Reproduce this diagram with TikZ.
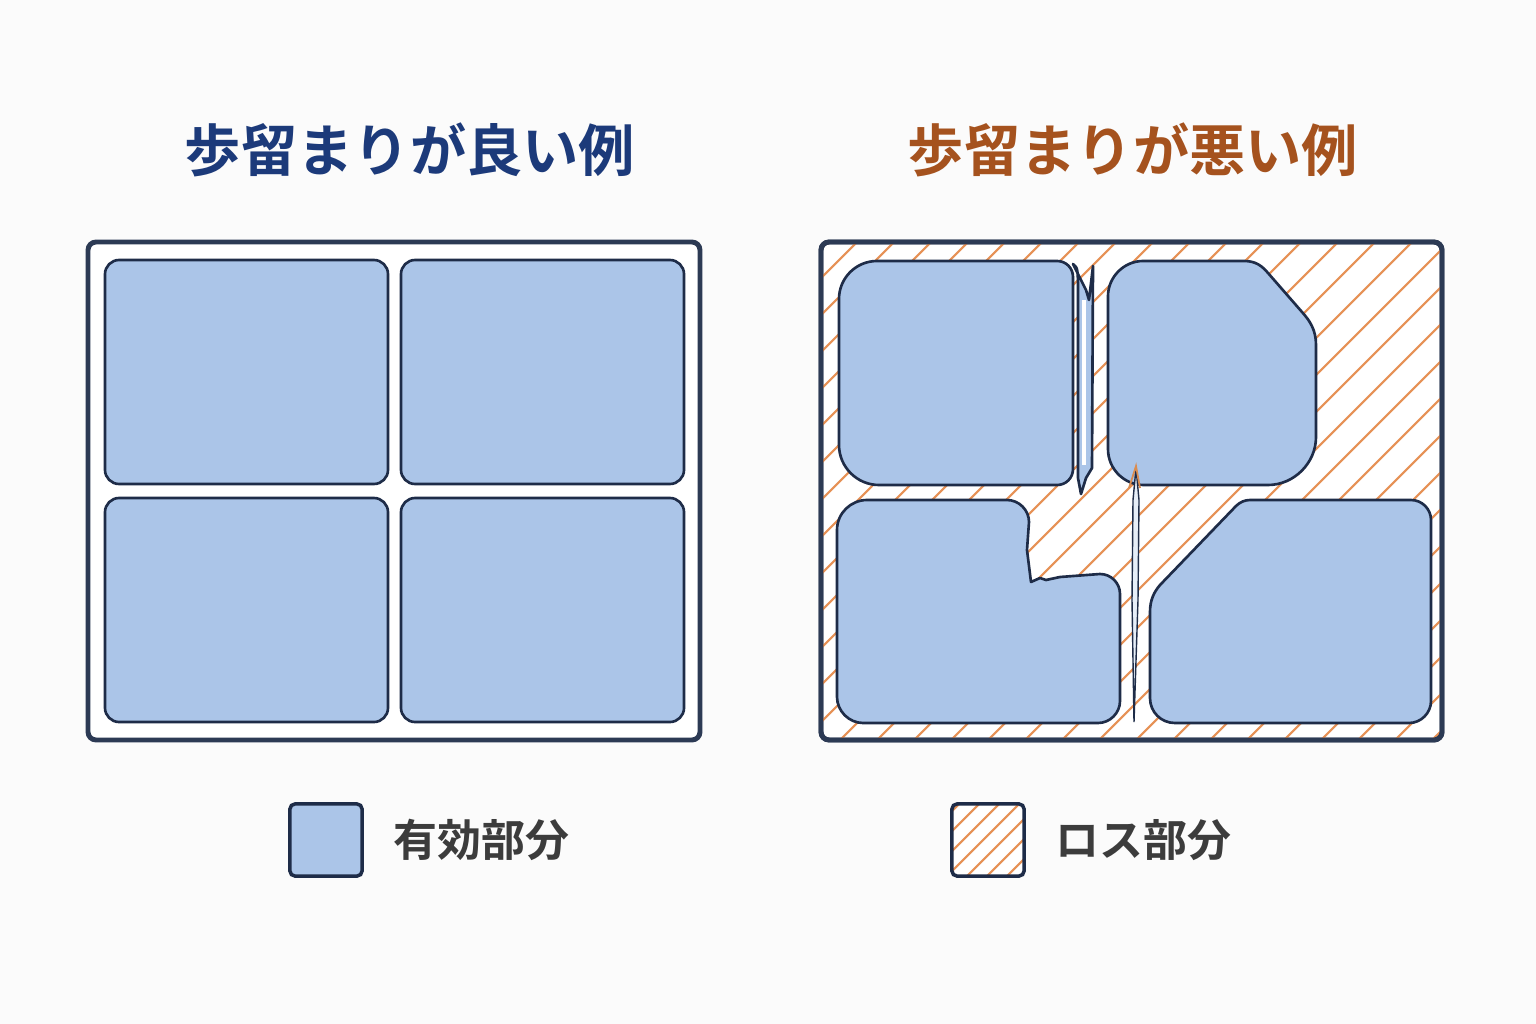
\documentclass[tikz,border=0pt]{standalone}
\usepackage{fontspec}
\setmainfont{Noto Sans CJK JP}[BoldFont={* Bold}]
\usetikzlibrary{positioning,calc}

\definecolor{bgcol}{RGB}{251,251,251}
\definecolor{framecol}{RGB}{44,58,84}
\definecolor{edgecol}{RGB}{30,44,72}
\definecolor{partblue}{RGB}{171,197,232}
\definecolor{hatchcol}{RGB}{230,145,85}
\definecolor{goodcol}{RGB}{28,58,122}
\definecolor{badcol}{RGB}{165,82,30}
\definecolor{keytextcol}{RGB}{60,60,60}

\tikzset{
  panel/.style={draw=framecol, line width=1.4pt, fill=white, rounded corners=2.3pt},
  part/.style={draw=edgecol, line width=0.75pt, fill=partblue, line join=round},
  hatch/.style={draw=hatchcol, line width=0.6pt},
  title/.style={font=\bfseries\fontsize{16}{19}\selectfont, inner sep=0pt},
  keybox/.style={draw=edgecol, line width=1pt, rounded corners=1.4pt, minimum size=0.72cm, inner sep=0pt},
  keytext/.style={font=\bfseries\fontsize{12.5}{15}\selectfont, text=keytextcol, inner sep=0pt, anchor=west}
}

\begin{document}
\begin{tikzpicture}[x=0.01cm, y=-0.01cm]
	\fill[bgcol] (0,0) rectangle (1536,1024);
	\useasboundingbox (0,0) rectangle (1536,1024);

	% titles
	\node[title, text=goodcol] (goodtitle) at (410,150) {歩留まりが良い例};
	\node[title, text=badcol] (badtitle) at (1133,150) {歩留まりが悪い例};

	% good example
	\draw[panel] (88,242) rectangle (700,740);
	\foreach \x/\y in {105/260, 401/260, 105/498, 401/498}
		\draw[part, rounded corners=4pt] (\x,\y) rectangle ++(283,224);

	% bad example
	\draw[panel] (821,242) rectangle (1442,740);
	\begin{scope}
		\clip[rounded corners=2.3pt] (821,242) rectangle (1442,740);
		\foreach \c in {317,354,...,1465}
			\draw[hatch] (\c,745) -- ++(510,-510);
	\end{scope}

	% top left piece with sliver
	\draw[part] (877,261) -- (1057,261) .. controls (1066,261) and (1073,268) .. (1073,277)
		-- (1073,469) .. controls (1073,478) and (1066,485) .. (1057,485) -- (879,485)
		.. controls (857,485) and (839,467) .. (839,445) -- (839,299)
		.. controls (839,278) and (856,261) .. (877,261) -- cycle;
	\draw[part] (1073,264) .. controls (1078,268) .. (1078,300) -- (1078,478) -- (1081,494)
		-- (1086,478) -- (1092,468) -- (1093,266) -- (1089,300) -- (1086,290) -- cycle;
	\draw[white, line width=1pt] (1084,300) -- (1084,465);

	% top right piece, chamfered corner
	\draw[part] (1143,261) -- (1244,261) .. controls (1256,261) and (1262,266) .. (1268,273)
		-- (1302,312) .. controls (1310,321) and (1316,330) .. (1316,345) -- (1316,437)
		.. controls (1316,463) and (1294,485) .. (1268,485) -- (1144,485)
		.. controls (1124,485) and (1108,469) .. (1108,449) -- (1108,296)
		.. controls (1108,277) and (1124,261) .. (1143,261) -- cycle;

	% bottom left piece, notched
	\draw[part] (867,500) -- (1007,500) .. controls (1019,500) and (1029,510) .. (1029,522)
		-- (1027,550) -- (1031,582) -- (1040,578) -- (1046,580) -- (1060,577) -- (1100,574)
		.. controls (1111,574) and (1120,583) .. (1120,594) -- (1120,701)
		.. controls (1120,713) and (1110,723) .. (1098,723) -- (863,723)
		.. controls (849,723) and (837,711) .. (837,697) -- (837,530)
		.. controls (837,513) and (851,500) .. (867,500) -- cycle;

	% bottom right piece, chamfered corner
	\draw[part] (1250,500) -- (1411,500) .. controls (1422,500) and (1431,509) .. (1431,520)
		-- (1431,701) .. controls (1431,713) and (1421,723) .. (1409,723) -- (1175,723)
		.. controls (1161,723) and (1150,712) .. (1150,698) -- (1150,612)
		.. controls (1150,600) and (1154,592) .. (1160,585) -- (1236,506)
		.. controls (1240,502) and (1245,500) .. (1250,500) -- cycle;

	% crack
	\draw[draw=edgecol, line width=0.4pt, fill=partblue!30] (1134,722) -- (1132,600)
		-- (1133,500) -- (1136,468) -- (1139,500) -- (1138,600) -- cycle;
	\draw[hatchcol!70!brown, line width=0.5pt] (1129,488) -- (1136,466) -- (1140,488);

	% frame again on top
	\draw[panel, fill=none] (821,242) rectangle (1442,740);

	% legend
	\node[keybox, fill=partblue] (keygood) at (326,840) {};
	\node[keytext, right=0.29cm of keygood] (keygoodtext) {有効部分};
	\node[keybox, fill=white, path picture={
		\foreach \c in {-110,-90,...,80}
			\draw[hatch] ($(path picture bounding box.south west)+(\c,5)$) -- ++(90,-90);
		}] (keybad) at (988,840) {};
	\node[keytext, right=0.29cm of keybad] (keybadtext) {ロス部分};
\end{tikzpicture}
\end{document}
